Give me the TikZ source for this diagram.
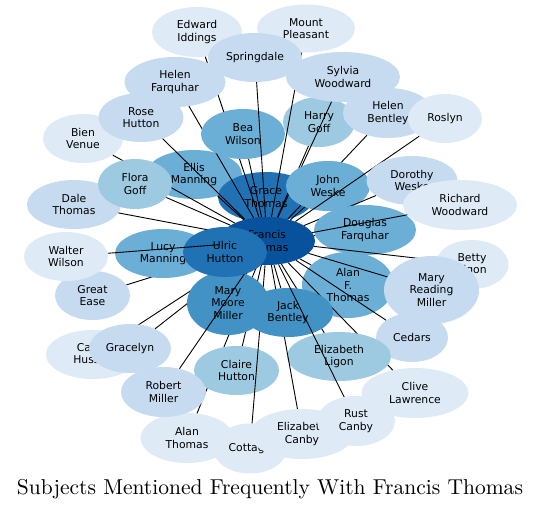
\documentclass[tikz,border=0pt]{standalone}
\usepackage{fontspec}
\newfontfamily\nodefont{DejaVu Sans}
\usetikzlibrary{shapes.geometric}
\definecolor{cA}{HTML}{DEEBF7}
\definecolor{cB}{HTML}{C6DBEF}
\definecolor{cC}{HTML}{9ECAE1}
\definecolor{cD}{HTML}{6BAED6}
\definecolor{cE}{HTML}{4292C6}
\definecolor{cF}{HTML}{2171B5}
\definecolor{cG}{HTML}{08519C}
\tikzset{
  nd/.style={ellipse, inner sep=0pt, align=center, text=black,
    font=\nodefont\fontsize{10.8}{12.4}\selectfont},
  ed/.style={draw=black, line width=0.9pt},
  sz/.style 2 args={minimum width=#1pt, minimum height=#2pt}
}
\begin{document}
\begin{tikzpicture}[x=1pt,y=-1pt]
\useasboundingbox (0,0) rectangle (541,509);
\fill[white] (0,0) rectangle (541,509);
% 1
\node[nd, fill=cD, sz={96}{49}] (em) at (194,174.5) {Ellis\\Manning};
\node[nd, fill=cF, sz={96}{50}] (gt) at (266,197) {Grace\\Thomas};
\node[nd, fill=cG, sz={96}{48}] (ft) at (267,241) {Francis\\Thomas};
\draw[ed] (em) -- (ft);
\node[nd, fill=cB, sz={94}{49}] (dt) at (74,204.5) {Dale\\Thomas};
\draw[ed] (dt) -- (ft);
\node[nd, fill=cA, sz={80}{49}] (bv) at (83,138.5) {Bien\\Venue};
\draw[ed] (bv) -- (ft);
\node[nd, fill=cC, sz={74}{50}] (fg) at (135,184) {Flora\\Goff};
\draw[ed] (fg) -- (ft);
\node[nd, fill=cB, sz={85}{49}] (rh) at (141,117.5) {Rose\\Hutton};
\draw[ed] (rh) -- (ft);
\node[nd, fill=cA, sz={90}{50}] (ei) at (197,32) {Edward\\Iddings};
\draw[ed] (ei) -- (ft);
\node[nd, fill=cB, sz={101}{50}] (hf) at (175,82) {Helen\\Farquhar};
\draw[ed] (hf) -- (ft);
\node[nd, fill=cD, sz={84}{50}] (bw) at (243,134) {Bea\\Wilson};
\draw[ed] (bw) -- (ft);
\node[nd, fill=cC, sz={72}{50}] (hg) at (319,122) {Harry\\Goff};
\draw[ed] (hg) -- (ft);
\node[nd, fill=cA, sz={98}{48}] (mp) at (306,28.5) {Mount\\Pleasant};
\draw[ed] (mp) -- (ft);
\node[nd, fill=cB, sz={94}{49}] (sp) at (255,57.5) {Springdale};
\draw[ed] (sp) -- (ft);
\node[nd, fill=cB, sz={114}{50}] (sw) at (343,77) {Sylvia\\Woodward};
\draw[ed] (sw) -- (ft);
\node[nd, fill=cB, sz={90}{50}] (hb) at (388,113) {Helen\\Bentley};
\draw[ed] (hb) -- (ft);
\node[nd, fill=cD, sz={84}{50}] (jw) at (328,186) {John\\Weske};
\draw[ed] (jw) -- (ft);
\node[nd, fill=cA, sz={74}{49}] (ro) at (445,118.5) {Roslyn};
\draw[ed] (ro) -- (ft);
\node[nd, fill=cB, sz={91}{49}] (dw) at (412,180.5) {Dorothy\\Weske};
\draw[ed] (dw) -- (ft);
\node[nd, fill=cD, sz={102}{50}] (df) at (365,230) {Douglas\\Farquhar};
\draw[ed] (df) -- (ft);
\node[nd, fill=cA, sz={114}{50}] (rw) at (460,205) {Richard\\Woodward};
\draw[ed] (rw) -- (ft);
\node[nd, fill=cA, sz={73}{49}] (bl) at (472,264.5) {Betty\\Ligon};
\draw[ed] (bl) -- (ft);
\node[nd, fill=cD, sz={92}{66}] (af) at (348,285) {Alan\\F.\\Thomas};
\draw[ed] (af) -- (ft);
\node[nd, fill=cB, sz={95}{68}] (mr) at (431.5,290) {Mary\\Reading\\Miller};
\draw[ed] (mr) -- (ft);
\node[nd, fill=cB, sz={72}{49}] (ce) at (412,337.5) {Cedars};
\draw[ed] (ce) -- (ft);
\node[nd, fill=cB, sz={75}{49}] (ge) at (92.5,295.5) {Great\\Ease};
\draw[ed] (ge) -- (ft);
\node[nd, fill=cD, sz={96}{49}] (lm) at (163,253.5) {Lucy\\Manning};
\draw[ed] (lm) -- (ft);
\node[nd, fill=cA, sz={107}{50}] (cl) at (415,393) {Clive\\Lawrence};
\draw[ed] (cl) -- (ft);
\node[nd, fill=cC, sz={104}{49}] (el) at (339,356.5) {Elizabeth\\Ligon};
\draw[ed] (el) -- (ft);
\node[nd, fill=cA, sz={94}{49}] (ch) at (93,354.5) {Carrie\\Hussey};
\draw[ed] (ch) -- (ft);
\node[nd, fill=cB, sz={82}{49}] (gr) at (130,348.5) {Gracelyn};
\draw[ed] (gr) -- (ft);
\node[nd, fill=cA, sz={93}{50}] (at) at (187,438) {Alan\\Thomas};
\draw[ed] (at) -- (ft);
\node[nd, fill=cC, sz={85}{49}] (cht) at (236.5,370.5) {Claire\\Hutton};
\draw[ed] (cht) -- (ft);
\node[nd, fill=cA, sz={74}{50}] (co) at (250,448.5) {Cottage};
\draw[ed] (co) -- (ft);
\node[nd, fill=cA, sz={104}{50}] (ec) at (302,434) {Elizabeth\\Canby};
\draw[ed] (ec) -- (ft);
\node[nd, fill=cE, sz={90}{49}] (jb) at (288,312.5) {Jack\\Bentley};
\draw[ed] (jb) -- (ft);
\node[nd, fill=cA, sz={78}{50}] (rc) at (356,421) {Rust\\Canby};
\draw[ed] (rc) -- (ft);
\node[nd, fill=cE, sz={82}{64}] (mm) at (228,303) {Mary\\Moore\\Miller};
\draw[ed] (mm) -- (ft);
\node[nd, fill=cB, sz={85}{50}] (rm) at (163.5,392) {Robert\\Miller};
\draw[ed] (rm) -- (ft);
\node[nd, fill=cF, sz={84}{50}] (uh) at (225,252) {Ulric\\Hutton};
\node[nd, fill=cA, sz={84}{49}] (ww) at (66,256.5) {Walter\\Wilson};
\draw[ed] (ww) -- (ft);
% title
\node[anchor=base, inner sep=0pt] (title) at (270,494)
  {\resizebox{506pt}{!}{\fontsize{10}{12}\selectfont Subjects Mentioned Frequently With Francis Thomas}};
\end{tikzpicture}
\end{document}
